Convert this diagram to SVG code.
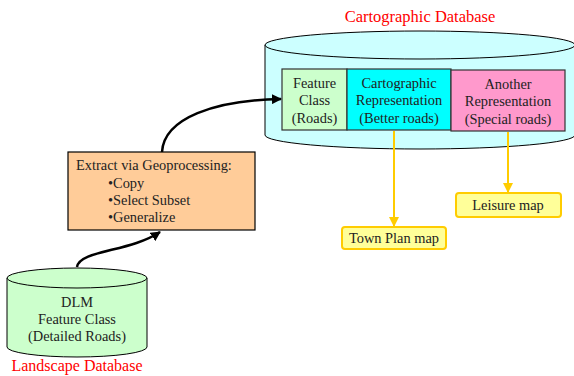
<svg xmlns="http://www.w3.org/2000/svg" width="574" height="376" viewBox="0 0 574 376">
  <style>
    text { font-family: "Liberation Serif", "Times New Roman", serif; font-size: 14.4px; fill: #222; }
    .title { font-size: 16.5px; fill: #FF0000; text-anchor: middle; }
    .mid { text-anchor: middle; }
    .cyl { stroke: #000; stroke-width: 1; }
    .cell { stroke: #333; stroke-width: 1.2; }
    .map { fill: #FFFF99; stroke: #FFCC00; stroke-width: 2; }
    .flow { fill: none; stroke: #000; stroke-width: 2.5; }
    .link { fill: none; stroke: #FFCC00; stroke-width: 2; }
  </style>
  <defs>
    <marker id="blackHead" viewBox="0 0 10 10" refX="9" refY="5" markerWidth="4" markerHeight="4" orient="auto" markerUnits="strokeWidth">
      <path d="M0,0 L10,5 L0,10 z" fill="#000"/>
    </marker>
    <marker id="goldHead" viewBox="0 0 10 10" refX="9" refY="5" markerWidth="5" markerHeight="5" orient="auto" markerUnits="strokeWidth">
      <path d="M0,0 L10,5 L0,10 z" fill="#FFCC00"/>
    </marker>
  </defs>

  <!-- Cartographic database cylinder -->
  <g id="cartographic-db">
    <text class="title" x="420" y="22">Cartographic Database</text>
    <path class="cyl" d="M265,45 L265,135 A155,14 0 0 0 575,135 L575,45 Z" fill="#CCFFFF"/>
    <ellipse class="cyl" cx="420" cy="45" rx="155" ry="14" fill="#CCFFFF"/>
  </g>

  <g id="feature-class">
    <rect class="cell" x="282" y="69" width="65" height="61" fill="#CCFFCC"/>
    <text class="mid" x="314.5" y="88">Feature</text>
    <text class="mid" x="314.5" y="105">Class</text>
    <text class="mid" x="314.5" y="123">(Roads)</text>
  </g>

  <g id="cartographic-representation">
    <rect class="cell" x="347" y="69" width="104" height="61" fill="#00FFFF"/>
    <text class="mid" x="399" y="88">Cartographic</text>
    <text class="mid" x="399" y="105">Representation</text>
    <text class="mid" x="399" y="123">(Better roads)</text>
  </g>

  <g id="another-representation">
    <rect class="cell" x="451" y="70" width="114" height="61" fill="#FF99CC"/>
    <text class="mid" x="508" y="89">Another</text>
    <text class="mid" x="508" y="106">Representation</text>
    <text class="mid" x="508" y="124">(Special roads)</text>
  </g>

  <g id="town-plan-map">
    <rect class="map" x="342" y="227" width="104" height="22" rx="3"/>
    <text class="mid" x="394" y="243">Town Plan map</text>
  </g>

  <g id="leisure-map">
    <rect class="map" x="456" y="193" width="105" height="24" rx="3"/>
    <text class="mid" x="508" y="210">Leisure map</text>
  </g>

  <g id="extract">
    <rect x="68" y="152" width="187" height="78" fill="#FFCC99" stroke="#000" stroke-width="1.2"/>
    <text x="76" y="170">Extract via Geoprocessing:</text>
    <text x="108" y="188">•Copy</text>
    <text x="108" y="205">•Select Subset</text>
    <text x="108" y="222">•Generalize</text>
  </g>

  <!-- Landscape database cylinder -->
  <g id="landscape-db">
    <path class="cyl" d="M7,278 L7,347 A70,10 0 0 0 147,347 L147,278 Z" fill="#CCFFCC"/>
    <ellipse class="cyl" cx="77" cy="278" rx="70" ry="10" fill="#CCFFCC"/>
    <text class="mid" x="77" y="307">DLM</text>
    <text class="mid" x="77" y="324">Feature Class</text>
    <text class="mid" x="77" y="341">(Detailed Roads)</text>
    <text class="title" x="77" y="371" style="font-size:16px">Landscape Database</text>
  </g>

  <!-- Connectors -->
  <g id="connectors">
    <path class="flow" d="M77,267 C80,250 130,252 160,232" marker-end="url(#blackHead)"/>
    <path class="flow" d="M162,152 C164,118 215,100 281,99" marker-end="url(#blackHead)"/>
    <path class="link" d="M394,131 L394,226" marker-end="url(#goldHead)"/>
    <path class="link" d="M508,132 L508,192" marker-end="url(#goldHead)"/>
  </g>
</svg>
